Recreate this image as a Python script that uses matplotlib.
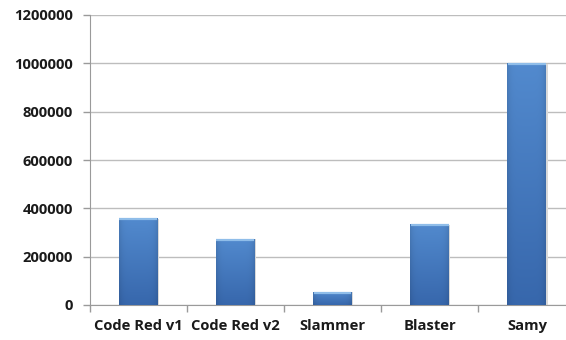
import numpy as np
import matplotlib
matplotlib.use("Agg")
import matplotlib.pyplot as plt
from matplotlib.ticker import FixedLocator

plt.rcParams['font.family'] = ['Open Sans', 'DejaVu Sans']

# Infected hosts per worm
worms = ["Code Red v1", "Code Red v2", "Slammer", "Blaster", "Samy"]
infections = [359000, 275000, 55000, 336000, 1000000]
y_ticks = [0, 200000, 400000, 600000, 800000, 1000000, 1200000]

fig = plt.figure(figsize=(5.66, 3.40), dpi=100)
ax = fig.add_axes([89.5 / 566, 35 / 340, 486 / 566, 290 / 340])

x = np.arange(len(worms))
bar_w = 0.40
bars = ax.bar(x, infections, width=bar_w, color="none", edgecolor="none", zorder=3)

# Vertical shading: lighter top, darker bottom, slightly darker sides
top = np.array([0x52, 0x8a, 0xce]) / 255
bot = np.array([0x37, 0x67, 0xac]) / 255
ny, nx = 200, 40
t = np.linspace(0, 1, ny)[:, None]
side = np.linspace(-1, 1, nx)[None, :]
shade = 1 - 0.10 * np.abs(side) ** 6
img = (top[None, None, :] * (1 - t[..., None]) + bot[None, None, :] * t[..., None])
img = img * shade[..., None]
img = np.clip(img, 0, 1)

gridcolor = "#bdbdbd"
for rect, val in zip(bars, infections):
    x0 = rect.get_x()
    w = rect.get_width()
    # soft shadow on the right side
    ax.bar(x0 + w / 2 + 0.012, val, width=w, bottom=-3000, color="#d9d9d9",
           edgecolor="none", zorder=2.5)
    im = ax.imshow(img, extent=[x0, x0 + w, 0, val], aspect="auto",
                   origin="upper", zorder=3, interpolation="bilinear")
    im.set_clip_path(rect)
    # light rim along the top edge
    ax.plot([x0 + 0.005, x0 + w - 0.005], [val - 4000, val - 4000],
            color="#8fbde9", lw=1.6, zorder=4, solid_capstyle="butt")

ax.set_xlim(-0.5, len(worms) - 0.5)
ax.set_ylim(0, 1200000)
ax.set_yticks(y_ticks)
ax.set_yticklabels([str(v) for v in y_ticks])
ax.yaxis.grid(True, color=gridcolor, lw=1.0, zorder=0)
ax.set_axisbelow(True)

ax.set_xticks(x)
ax.set_xticklabels(worms)
ax.xaxis.set_minor_locator(FixedLocator(np.arange(-0.5, len(worms), 1.0)))
ax.tick_params(axis="x", which="major", length=0, pad=10)
ax.tick_params(axis="x", which="minor", length=5, color="#9a9a9a", width=1.0)
ax.tick_params(axis="y", length=5, color="#9a9a9a", width=1.0, pad=7)

for lab in ax.get_xticklabels() + ax.get_yticklabels():
    lab.set_fontsize(10.6)
    lab.set_fontweight("bold")
    lab.set_color("#1a1a1a")

for s in ["top", "right"]:
    ax.spines[s].set_visible(False)
ax.spines["left"].set_color("#9a9a9a")
ax.spines["bottom"].set_color("#9a9a9a")

fig.savefig("out.png", dpi=100)
